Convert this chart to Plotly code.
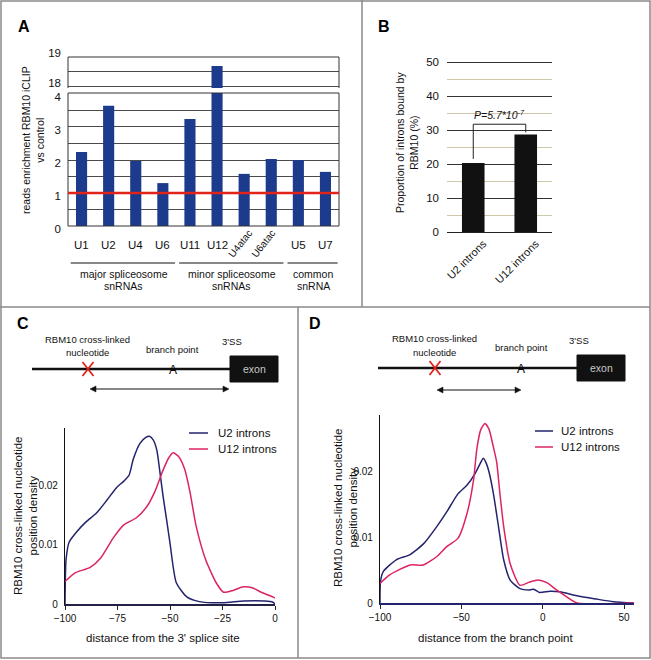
import plotly.graph_objects as go

W, H = 651, 660


def px(x):
    return x / W


def py(y):
    return 1 - y / H


FONT = "Arial, Liberation Sans, sans-serif"

# ---------------- data ----------------
# Panel A
snrnas = ["U1", "U2", "U4", "U6", "U11", "U12", "U4atac", "U6atac", "U5", "U7"]
enrichment = [2.24, 3.64, 1.97, 1.30, 3.24, 18.7, 1.58, 2.03, 2.00, 1.64]
control_level = 1
group_names = ["major spliceosome", "minor spliceosome", "common"]
group_sub = ["snRNAs", "snRNAs", "snRNA"]
group_members = [["U1", "U2", "U4", "U6"], ["U11", "U12", "U4atac", "U6atac"], ["U5", "U7"]]

# Panel B
intron_types = ["U2 introns", "U12 introns"]
proportion_bound = [20.3, 28.7]
p_value_text = "P=5.7*10<sup>-7</sup>"

# Panel C: distance from the 3' splice site
c_u2_x = [-100, -99.5, -98, -94.5, -90, -85, -80, -75.5, -72, -69.5, -67.5, -64.3, -61.5, -59.8,
          -58, -56.3, -54.5, -53.2, -51.5, -50, -47, -42, -36, -25, -15, -5, -1, 0]
c_u2_y = [0.0, 0.0075, 0.0105, 0.0122, 0.0139, 0.0154, 0.0176, 0.0197, 0.0208, 0.0218, 0.0245,
          0.0272, 0.0282, 0.0284, 0.0278, 0.0261, 0.0215, 0.0180, 0.0140, 0.0103, 0.0036, 0.0012,
          0.0004, 0.0002, 0.0005, 0.0005, 0.0003, 0.0]
c_u12_x = [-100, -95, -88, -83, -77, -72, -66, -61, -57, -53.5, -50.5, -48.5, -46, -43, -40.5,
           -37.5, -33, -28, -24.5, -20, -15, -10.5, -6, -1, 0]
c_u12_y = [0.0038, 0.0053, 0.0062, 0.0078, 0.0112, 0.0134, 0.0146, 0.0165, 0.0192, 0.0225, 0.0248,
           0.0256, 0.0250, 0.0228, 0.0190, 0.0131, 0.0075, 0.0036, 0.0020, 0.0023, 0.0029, 0.0027,
           0.0019, 0.0012, 0.0010]

# Panel D: distance from the branch point
d_u2_x = [-100, -99.7, -98, -90, -81.5, -73, -65, -59, -52, -46.5, -41.5, -38, -36.5, -34.5, -33,
          -30.3, -27.2, -24, -20, -14, -8, -5.5, -2, 4.5, 10.5, 21, 33, 43.5, 56]
d_u2_y = [0.0, 0.0033, 0.0048, 0.0066, 0.0074, 0.0091, 0.0117, 0.0139, 0.0167, 0.0180, 0.0198,
          0.0215, 0.0221, 0.0212, 0.0200, 0.0167, 0.0117, 0.0066, 0.0035, 0.0022, 0.0020, 0.0021,
          0.0016, 0.0018, 0.0017, 0.0011, 0.0006, 0.0002, 0.0]
d_u12_x = [-100, -94, -81.5, -73.5, -65, -59, -52, -46.5, -42.5, -40.5, -38, -35.5, -33, -30.5,
           -28.3, -26.3, -24, -20, -14, -8, -3, 2.5, 8.5, 15, 21, 56]
d_u12_y = [0.0030, 0.0043, 0.0058, 0.0058, 0.0071, 0.0086, 0.0099, 0.0137, 0.0188, 0.0235, 0.0265,
           0.0274, 0.0265, 0.0240, 0.0215, 0.0167, 0.0117, 0.0060, 0.0027, 0.0032, 0.0035, 0.0031,
           0.0020, 0.0009, 0.0, 0.0]

series_names = ["U2 introns", "U12 introns"]

# ---------------- styles ----------------
BLUE_BAR = "#1d3b8c"
NAVY = "#23236e"
CRIMSON = "#dc2460"
RED = "#e2231a"
GRID = "#4a4a4a"
BORDER = "#8a8a8a"

fig = go.Figure()

# Panel A bars (lower and upper broken axes)
fig.add_trace(go.Bar(x=snrnas, y=enrichment, xaxis="x", yaxis="y", marker_color=BLUE_BAR,
                     marker_line_width=0, width=0.41, showlegend=False))
fig.add_trace(go.Bar(x=snrnas, y=enrichment, xaxis="x", yaxis="y2", marker_color=BLUE_BAR,
                     marker_line_width=0, width=0.41, showlegend=False))

# Panel B bars
fig.add_trace(go.Bar(x=intron_types, y=proportion_bound, xaxis="x2", yaxis="y3",
                     marker_color="#111111", marker_line_width=0, width=0.43, showlegend=False))

# Panel C & D curves
for xs, ys, col, ax, ay in [
    (c_u2_x, c_u2_y, NAVY, "x3", "y4"),
    (c_u12_x, c_u12_y, CRIMSON, "x3", "y4"),
    (d_u2_x, d_u2_y, NAVY, "x4", "y5"),
    (d_u12_x, d_u12_y, CRIMSON, "x4", "y5"),
]:
    fig.add_trace(go.Scatter(x=xs, y=ys, xaxis=ax, yaxis=ay, mode="lines",
                             line=dict(color=col, width=1.5, shape="spline", smoothing=0.6),
                             showlegend=False))

tickA = dict(family=FONT, size=11.5, color="#111")
tickB = dict(family=FONT, size=11, color="#111")
tickCD = dict(family=FONT, size=10, color="#111")

layout = dict(
    template="none",
    width=W, height=H, margin=dict(l=0, r=0, t=0, b=0, pad=0),
    paper_bgcolor="white", plot_bgcolor="rgba(0,0,0,0)",
    font=dict(family=FONT, color="#111"),
    showlegend=False,
    # Panel A
    xaxis=dict(domain=[px(68), px(339)], anchor="y", type="category", automargin=False,
               range=[-0.5, len(snrnas) - 0.5], showticklabels=False, ticks="",
               showgrid=False, zeroline=False, showline=False),
    yaxis=dict(domain=[py(226), py(93)], anchor="x", range=[0, 4.03], automargin=False,
               tick0=0, dtick=1, showgrid=True, gridcolor=GRID, gridwidth=1,
               minor=dict(tick0=0, dtick=0.5, showgrid=True, gridcolor=GRID, gridwidth=1),
               zeroline=False, showline=False, ticks="", tickfont=tickA,
               ticklabelstandoff=6, ticklabelshift=3),
    yaxis2=dict(domain=[py(88), py(57)], anchor="x", range=[17.96, 19.0], automargin=False,
                tickvals=[18, 19], showgrid=True, gridcolor=GRID, gridwidth=1,
                minor=dict(tick0=18, dtick=0.5, showgrid=True, gridcolor=GRID, gridwidth=1),
                zeroline=False, showline=False, ticks="", tickfont=tickA,
                ticklabelstandoff=6, ticklabelshift=-4),
    # Panel B
    xaxis2=dict(domain=[px(447), px(552)], anchor="y3", type="category", range=[-0.5, 1.5],
                automargin=False, tickangle=-45, tickfont=tickB, ticks="", showgrid=False,
                zeroline=False, showline=True, linecolor="#222", linewidth=1,
                ticklabelshift=10),
    yaxis3=dict(domain=[py(232), py(61)], anchor="x2", range=[0, 50.3], dtick=10, tick0=0,
                automargin=False, showgrid=True, gridcolor="#333", gridwidth=1,
                minor=dict(dtick=5, tick0=0, showgrid=True, gridcolor="#cfc8a8", gridwidth=1),
                zeroline=False, showline=False, ticks="",
                tickfont=dict(family=FONT, size=11.5, color="#111"),
                ticklabelstandoff=7),
    # Panel C
    xaxis3=dict(domain=[px(65), px(275)], anchor="y4", range=[-100, 0], automargin=False,
                tickvals=[-100, -75, -50, -25, 0], ticks="outside", ticklen=4,
                tickcolor="#222", showgrid=False, zeroline=False, showline=True,
                linecolor="#222244", linewidth=1.5, tickfont=tickCD),
    yaxis4=dict(domain=[py(604), py(428)], anchor="x3", range=[0, 0.0298], automargin=False,
                tickvals=[0, 0.01, 0.02], ticktext=["0", "0.01", "0.02"],
                showgrid=False, zeroline=False, showline=True, linecolor="#111",
                linewidth=1.2, ticks="", ticklabelstandoff=4, tickfont=tickCD),
    # Panel D
    xaxis4=dict(domain=[px(380), px(634)], anchor="y5", range=[-100, 56.1], automargin=False,
                tickvals=[-100, -50, 0, 50], ticks="outside", ticklen=4,
                tickcolor="#222", showgrid=False, zeroline=False, showline=True,
                linecolor=NAVY, linewidth=2, tickfont=tickCD),
    yaxis5=dict(domain=[py(603), py(415)], anchor="x4", range=[0, 0.0287], automargin=False,
                tickvals=[0, 0.01, 0.02], ticktext=["0", "0.01", "0.02"],
                showgrid=False, zeroline=False, showline=True, linecolor="#111",
                linewidth=1.2, ticks="", ticklabelstandoff=4, tickfont=tickCD),
)
fig.update_layout(**layout)

shapes = []
annotations = []


def pline(x0, y0, x1, y1, color="#111", width=1.0):
    shapes.append(dict(type="line", xref="paper", yref="paper",
                       x0=px(x0), y0=py(y0), x1=px(x1), y1=py(y1),
                       line=dict(color=color, width=width)))


def ptext(x, y, text, size=12, color="#111", angle=0, **kw):
    annotations.append(dict(xref="paper", yref="paper", x=px(x), y=py(y), text=text,
                            showarrow=False, textangle=angle, xanchor="center",
                            yanchor="middle",
                            font=dict(size=size, color=color, family=FONT), **kw))


# ---- figure borders ----
shapes.append(dict(type="rect", xref="paper", yref="paper", x0=px(1), y0=py(658), x1=px(650),
                   y1=py(1), line=dict(color=BORDER, width=1.5)))
pline(0, 307, 650, 307, BORDER, 1.5)
pline(362, 0, 362, 307, BORDER, 1.5)
pline(298, 307, 298, 658, BORDER, 1.5)

# ---- panel letters ----
for lx, ly, lt in [(24, 26, "A"), (384, 26, "B"), (23, 323, "C"), (315, 323, "D")]:
    ptext(lx, ly, "<b>%s</b>" % lt, size=16, color="#000")

# ---- Panel A decorations ----
shapes.append(dict(type="rect", xref="x domain", yref="y domain", x0=0, x1=1, y0=0, y1=1,
                   line=dict(color="#333", width=1)))
for (x0, y0, x1, y1) in [(0, 0, 0, 1), (0, 1, 1, 1), (1, 1, 1, 0)]:
    shapes.append(dict(type="line", xref="x domain", yref="y2 domain", x0=x0, y0=y0, x1=x1,
                       y1=y1, line=dict(color="#333", width=1)))
shapes.append(dict(type="line", xref="x domain", yref="y", x0=0, x1=1, y0=control_level,
                   y1=control_level, line=dict(color=RED, width=2.5)))

for name in snrnas:
    rotated = "atac" in name
    annotations.append(dict(xref="x", yref="paper", x=name, y=py(245 if not rotated else 243),
                            text=name, showarrow=False, textangle=-52 if rotated else 0,
                            xshift=(-4 if name == "U4atac" else -8) if rotated else 0,
                            font=dict(family=FONT, size=10 if rotated else 11.5,
                                      color="#111")))

for gname, gsub, members in zip(group_names, group_sub, group_members):
    i0 = snrnas.index(members[0])
    i1 = snrnas.index(members[-1])
    shapes.append(dict(type="line", xref="x", yref="paper", x0=i0 - 0.4, x1=i1 + 0.45,
                       y0=py(263), y1=py(263), line=dict(color="#111", width=1)))
    annotations.append(dict(xref="x", yref="paper", x=(i0 + i1) / 2 + 0.05, y=py(274),
                            text=gname, showarrow=False,
                            font=dict(family=FONT, size=10.5, color="#111")))
    annotations.append(dict(xref="x", yref="paper", x=(i0 + i1) / 2 + 0.05, y=py(286),
                            text=gsub, showarrow=False,
                            font=dict(family=FONT, size=10.5, color="#111")))

ptext(33, 140, "reads enrichment RBM10 iCLIP<br>vs control", size=10.5, angle=-90)

# ---- Panel B decorations ----
top_b = max(proportion_bound) + 3
shapes.append(dict(type="path", xref="x2", yref="y3",
                   path="M 0,%g L 0,%g L 1,%g L 1,%g" % (proportion_bound[0] + 1.2, top_b, top_b,
                                                         proportion_bound[1] + 0.6),
                   line=dict(color="#222", width=1)))
annotations.append(dict(xref="x2", yref="y3", x=0.5, y=top_b + 2.9,
                        text="<i>%s</i>" % p_value_text, showarrow=False,
                        font=dict(family=FONT, size=10.5, color="#111")))
ptext(407, 143, "Proportion of introns bound by<br>RBM10 (%)", size=10.5, angle=-90)

# ---- Panel C / D axis titles ----
ptext(25, 516, "RBM10 cross-linked nucleotide<br>position density", size=11.5, angle=-90)
ptext(163, 638, "distance from the 3' splice site", size=11.5)
ptext(345, 508, "RBM10 cross-linked nucleotide<br>position density", size=11.5, angle=-90)
ptext(496, 638, "distance from the branch point", size=11.5)

# ---- legends (C and D) ----
for (lx0, lx1, tx, ys) in [(189, 208, 216, (433, 449)), (535, 553, 559, (431, 447))]:
    for nm, col, yy in zip(series_names, [NAVY, CRIMSON], ys):
        pline(lx0, yy, lx1, yy, col, 1.5)
        annotations.append(dict(xref="paper", yref="paper", x=px(tx), y=py(yy), text=nm,
                                showarrow=False, xanchor="left", yanchor="middle",
                                font=dict(family=FONT, size=11.5, color="#111")))


# ---- intron diagrams ----
def diagram(x_start, x_exon, exon_w, y_line, x_cross, x_branch):
    pline(x_start, y_line, x_exon, y_line, "#111", 2.5)
    shapes.append(dict(type="rect", xref="paper", yref="paper", x0=px(x_exon),
                       x1=px(x_exon + exon_w), y0=py(y_line + 13), y1=py(y_line - 13),
                       fillcolor="#111", line=dict(color="#111", width=1)))
    ptext(x_exon + exon_w / 2, y_line, "exon", size=10.5, color="#c8c8c8")
    pline(x_cross - 5.5, y_line - 7, x_cross + 5.5, y_line + 7, RED, 1.8)
    pline(x_cross + 5.5, y_line - 7, x_cross - 5.5, y_line + 7, RED, 1.8)
    ptext(x_branch, y_line + 1, "A", size=12, color="#000")
    ptext(x_cross - 1, y_line - 30, "RBM10 cross-linked", size=9.5)
    ptext(x_cross - 1, y_line - 16, "nucleotide", size=9.5)
    ptext(x_branch, y_line - 20, "branch point", size=9.5)
    ptext(x_exon + 2, y_line - 28, "3'SS", size=9.5)


def double_arrow(x0, x1, y):
    pline(x0 + 3, y, x1 - 3, y, "#111", 1.2)
    shapes.append(dict(type="path", xref="paper", yref="paper",
                       path="M %f,%f L %f,%f L %f,%f Z" % (px(x0), py(y), px(x0 + 6), py(y - 3),
                                                           px(x0 + 6), py(y + 3)),
                       fillcolor="#111", line=dict(color="#111", width=0.5)))
    shapes.append(dict(type="path", xref="paper", yref="paper",
                       path="M %f,%f L %f,%f L %f,%f Z" % (px(x1), py(y), px(x1 - 6), py(y - 3),
                                                           px(x1 - 6), py(y + 3)),
                       fillcolor="#111", line=dict(color="#111", width=0.5)))


diagram(32, 230, 48, 369, 88, 173)
double_arrow(90, 229, 389)
diagram(378, 577, 48, 368, 435, 521)
double_arrow(437, 521, 390)

fig.update_layout(shapes=shapes, annotations=annotations)
fig.write_html("out.html", config={"displayModeBar": False},
               post_script="document.body.style.margin='0';"
                           "document.body.style.overflow='hidden';")
